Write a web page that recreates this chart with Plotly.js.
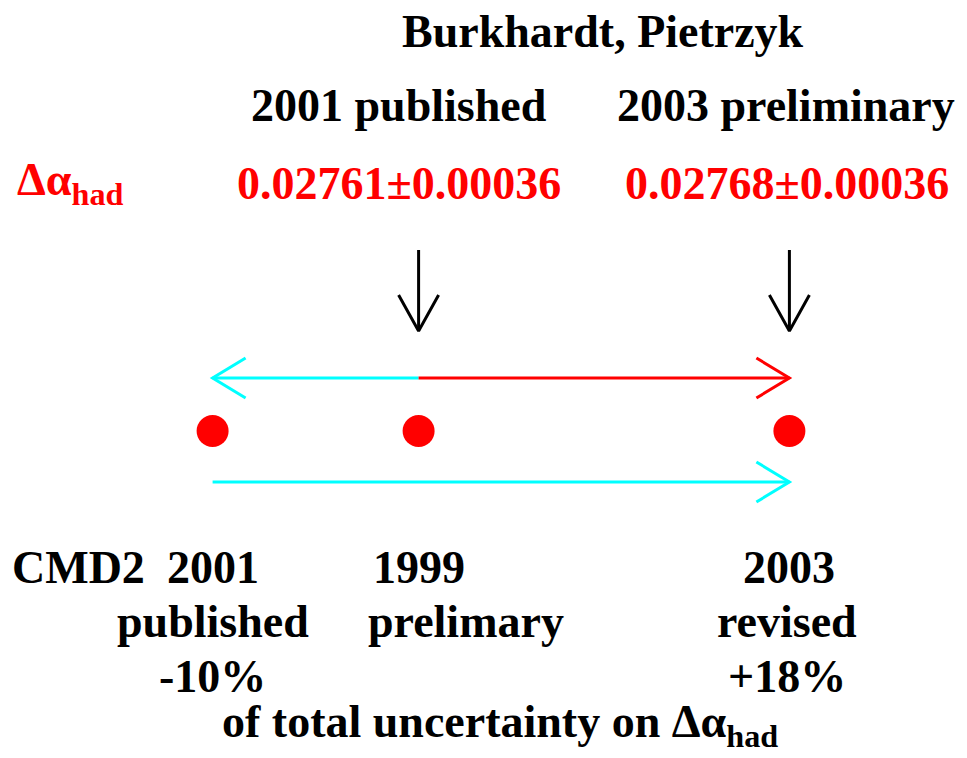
<!DOCTYPE html>
<html>
<head>
<meta charset="utf-8">
<script src="https://cdn.plot.ly/plotly-3.0.1.min.js"></script>
<style>html,body{margin:0;padding:0;background:#fff;}#chart{width:967px;height:758px;}</style>
</head>
<body>
<div id="chart"></div>
<script>
// ---- data ----
const pctChange = [-10, 0, 18];                 // change of total uncertainty on Δα_had (%)
const measYear = ['2001', '1999', '2003'];
const measKind = ['published', 'prelimary', 'revised'];
const measPct = ['-10%', '', '+18%'];
const studyNames = ['2001 published', '2003 preliminary'];
const studyInput = [0, 18];                      // which CMD2 input each study used (pct position)
const studyValues = ['0.02761±0.00036', '0.02768±0.00036'];
const author = 'Burkhardt, Pietrzyk';

// ---- style / layout constants ----
const W = 967, H = 758;
const PX_PER_PCT = 20.6, ZERO_PX = 418.6;
const xr = [-ZERO_PX / PX_PER_PCT, (W - ZERO_PX) / PX_PER_PCT];
const RED = '#ff0000', CYAN = '#00ffff', BLACK = '#000000';
const FONT = '"Liberation Serif", "Times New Roman", serif';
const FS = 46;
const yTopArrow = 378, yDots = 431, yBotArrow = 482;
const yBlackTop = 250, yBlackTip = 331;
const headDx = 33 / PX_PER_PCT, headDy = 20;     // open arrowhead wing size
const blackDx = 20 / PX_PER_PCT, blackDy = 36;

const traces = [];
function seg(x0, y0, x1, y1, color, w) {
  traces.push({x: [x0, x1], y: [y0, y1], mode: 'lines', line: {color: color, width: w},
    hoverinfo: 'skip', showlegend: false});
}
function openHead(x, y, dir, color, w) { // horizontal arrowhead
  traces.push({x: [x - dir * headDx, x, x - dir * headDx], y: [y - headDy, y, y + headDy],
    mode: 'lines', line: {color: color, width: w}, hoverinfo: 'skip', showlegend: false});
}
const pMin = pctChange[0], pMid = pctChange[1], pMax = pctChange[2];
// top arrow: from prelim 1999 to 2001 published (cyan) and to 2003 revised (red)
seg(pMid, yTopArrow, pMin, yTopArrow, CYAN, 3);
openHead(pMin, yTopArrow, -1, CYAN, 3);
seg(pMid, yTopArrow, pMax, yTopArrow, RED, 3);
openHead(pMax, yTopArrow, 1, RED, 3);
// bottom arrow: 2001 published -> 2003 revised
seg(pMin, yBotArrow, pMax, yBotArrow, CYAN, 3);
openHead(pMax, yBotArrow, 1, CYAN, 3);
// black arrows for inputs used by the studies
studyInput.forEach(p => {
  seg(p, yBlackTop, p, yBlackTip, BLACK, 3);
  traces.push({x: [p - blackDx, p, p + blackDx], y: [yBlackTip - blackDy, yBlackTip, yBlackTip - blackDy],
    mode: 'lines', line: {color: BLACK, width: 3}, hoverinfo: 'skip', showlegend: false});
});
// dots
traces.push({x: pctChange, y: pctChange.map(() => yDots), mode: 'markers',
  marker: {color: RED, size: 32, line: {width: 0}}, hoverinfo: 'skip', showlegend: false});

const ann = [];
function txt(x, y, text, color, opts) {
  ann.push(Object.assign({x: x, y: y, xref: 'x', yref: 'y', text: '<b>' + text + '</b>', showarrow: false,
    xanchor: 'center', yanchor: 'middle', font: {family: FONT, size: FS, color: color}}, opts || {}));
}
const dy = -1; // shift from cap-centre to box-centre
txt(8.95, 32 + dy, author, BLACK);
studyNames.forEach((s, i) => txt(studyInput[i], 106 + dy, s, BLACK, {xshift: i === 0 ? -20 : -3}));
studyValues.forEach((s, i) => txt(studyInput[i], 184 + dy, s, RED, {xshift: i === 0 ? -20 : -2}));
ann.push({x: 0.015, y: 184 + dy, xref: 'paper', yref: 'y', xanchor: 'left', yanchor: 'middle', showarrow: false,
  text: '<b>Δα<sub>had</sub></b>', font: {family: FONT, size: FS, color: RED}});
ann.push({x: 0.01, y: 568 + dy, xref: 'paper', yref: 'y', xanchor: 'left', yanchor: 'middle', showarrow: false,
  text: '<b>CMD2</b>', font: {family: FONT, size: FS, color: BLACK}});
pctChange.forEach((p, i) => {
  txt(p, 568 + dy, measYear[i], BLACK);
  txt(p, 622 + dy, measKind[i], BLACK, {xshift: i === 1 ? 47 : (i === 2 ? -2 : 0)});
  if (measPct[i]) txt(p, 677 + dy, measPct[i], BLACK, {xshift: i === 2 ? -2 : 0});
});
ann.push({x: 0.517, y: 726 + dy, xref: 'paper', yref: 'y', xanchor: 'center', yanchor: 'middle', showarrow: false,
  text: '<b>of total uncertainty on Δα<sub>had</sub></b>', font: {family: FONT, size: FS, color: BLACK}});

const layout = {
  width: W, height: H, margin: {l: 0, r: 0, t: 0, b: 0},
  paper_bgcolor: '#fff', plot_bgcolor: '#fff',
  xaxis: {range: xr, visible: false, fixedrange: true},
  yaxis: {range: [H, 0], visible: false, fixedrange: true},
  annotations: ann, showlegend: false
};
Plotly.newPlot('chart', traces, layout, {displayModeBar: false, staticPlot: true});
</script>
</body>
</html>
